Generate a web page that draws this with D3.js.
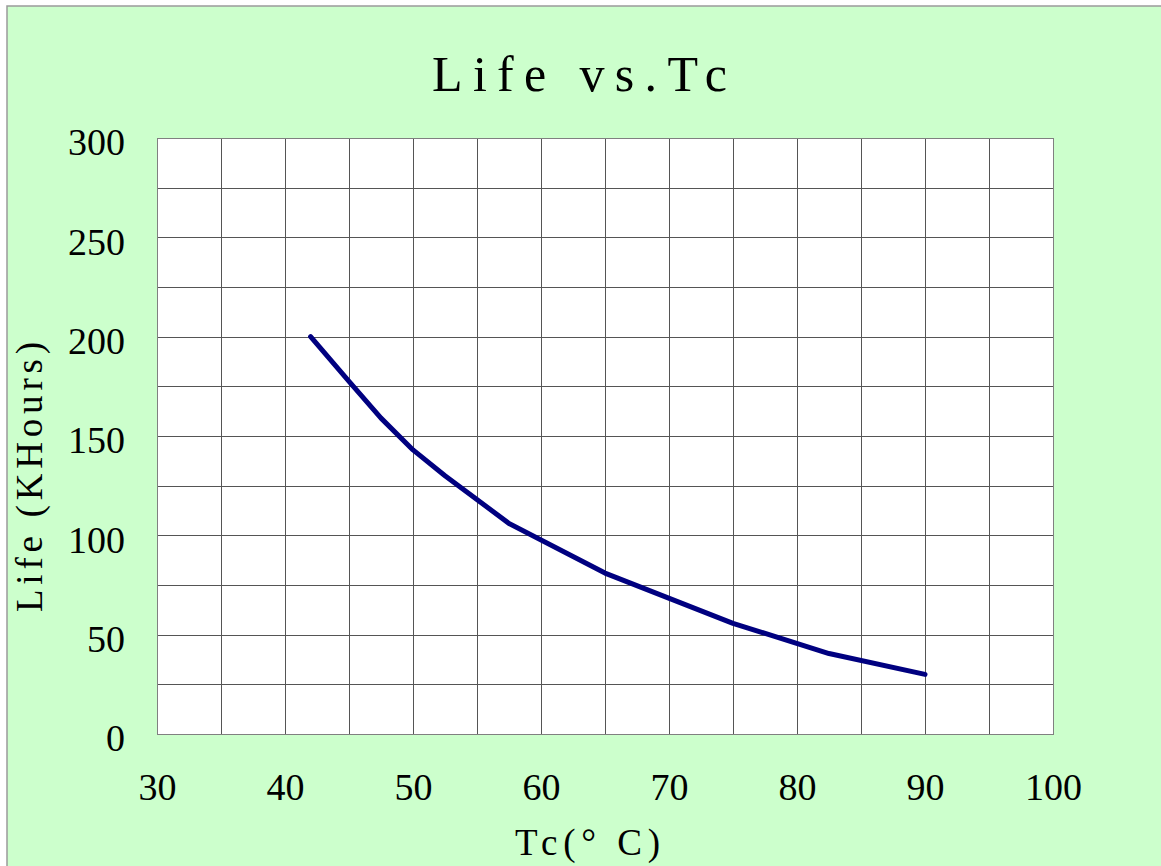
<!DOCTYPE html>
<html>
<head>
<meta charset="utf-8">
<script src="https://cdn.jsdelivr.net/npm/d3@7"></script>
<style>
  html, body { margin: 0; padding: 0; background: #ffffff; }
  svg { display: block; }
</style>
</head>
<body>
<svg id="chart" width="1161" height="866"></svg>
<script>
// ---- data ----
const tcValues   = [42, 45, 47.5, 50, 52.5, 57.5, 65, 75, 82.5, 90];
const lifeValues = [200, 177.5, 159, 143, 130, 106, 81, 55.7, 40.5, 30];
const xTickLabels = [30, 40, 50, 60, 70, 80, 90, 100];
const yTickLabels = [0, 50, 100, 150, 200, 250, 300];
const xGrid = d3.range(30, 100.1, 5);
const yGrid = d3.range(0, 300.1, 25);
const titleText = "Life vs.Tc";
const xTitle = "Tc(° C)";
const yTitle = "Life (KHours)";

const svg = d3.select("#chart");
const W = 1161, H = 866;
const m = { left: 157, right: 1053, top: 138, bottom: 734 };

// background
svg.append("rect").attr("x", 7).attr("y", 6).attr("width", W).attr("height", H)
  .attr("fill", "#ccffcc").attr("stroke", "#9a9a9a").attr("stroke-width", 1.5);

const x = d3.scaleLinear().domain([30, 100]).range([m.left, m.right]);
const y = d3.scaleLinear().domain([0, 300]).range([m.bottom, m.top]);

// plot area
svg.append("rect").attr("x", m.left).attr("y", m.top)
  .attr("width", m.right - m.left).attr("height", m.bottom - m.top)
  .attr("fill", "#ffffff");

const grid = svg.append("g").attr("stroke", "#555").attr("stroke-width", 1).attr("shape-rendering", "crispEdges");
grid.selectAll("line.v").data(xGrid).join("line").attr("class", "v")
  .attr("x1", d => Math.round(x(d)) + 0.5).attr("x2", d => Math.round(x(d)) + 0.5)
  .attr("y1", m.top).attr("y2", m.bottom);
grid.selectAll("line.h").data(yGrid).join("line").attr("class", "h")
  .attr("y1", d => Math.round(y(d)) + 0.5).attr("y2", d => Math.round(y(d)) + 0.5)
  .attr("x1", m.left).attr("x2", m.right);

svg.append("rect").attr("x", m.left + 0.5).attr("y", m.top + 0.5)
  .attr("width", m.right - m.left).attr("height", m.bottom - m.top)
  .attr("fill", "none").attr("stroke", "#808080").attr("stroke-width", 1);

// axes
const font = "'Liberation Serif', 'DejaVu Serif', serif";
const yAxis = d3.axisLeft(y).tickValues(yTickLabels).tickSize(0).tickPadding(0).tickFormat(d3.format("d"));
const gy = svg.append("g").attr("transform", `translate(${125},0)`).call(yAxis);
gy.select(".domain").remove();
gy.selectAll("text").attr("font-family", font).attr("font-size", 38).attr("fill", "#000")
  .attr("dy", "0.36em").attr("y", 3).attr("x", 0);

const xAxis = d3.axisBottom(x).tickValues(xTickLabels).tickSize(0).tickPadding(0).tickFormat(d3.format("d"));
const gx = svg.append("g").attr("transform", `translate(0,${773})`).call(xAxis);
gx.select(".domain").remove();
gx.selectAll("text").attr("font-family", font).attr("font-size", 38).attr("fill", "#000")
  .attr("dy", "0.71em").attr("y", 0);

// line
const data = tcValues.map((t, i) => ({ t, v: lifeValues[i] }));
svg.append("path").datum(data)
  .attr("fill", "none").attr("stroke", "#000080").attr("stroke-width", 5)
  .attr("stroke-linejoin", "round").attr("stroke-linecap", "round")
  .attr("d", d3.line().x(d => x(d.t)).y(d => y(d.v)));

// titles
svg.append("text").attr("x", 432).attr("y", 91).attr("textLength", 295).attr("lengthAdjust", "spacing")
  .attr("font-family", font).attr("font-size", 50).attr("fill", "#000").text(titleText);

svg.append("text").attr("x", 515).attr("y", 855).attr("textLength", 145).attr("lengthAdjust", "spacing")
  .attr("font-family", font).attr("font-size", 37).attr("fill", "#000").text(xTitle);

svg.append("text").attr("transform", "translate(42,612) rotate(-90)")
  .attr("textLength", 270).attr("lengthAdjust", "spacing")
  .attr("font-family", font).attr("font-size", 37).attr("fill", "#000").text(yTitle);
</script>
</body>
</html>
